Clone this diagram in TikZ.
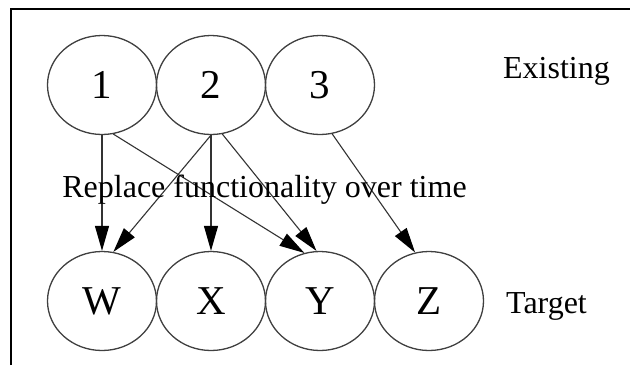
\documentclass[tikz,border=0pt]{standalone}
\usepackage{fontspec}
\setmainfont{Liberation Serif}
\usetikzlibrary{shapes.geometric,arrows.meta}

\begin{document}
\begin{tikzpicture}[x=1pt,y=-1pt,
  state/.style={ellipse,draw=black!75,line width=1.3pt,minimum width=109pt,
    minimum height=99pt,inner sep=0pt,font=\fontsize{41}{41}\selectfont},
  caption/.style={anchor=base,inner sep=0pt,font=\fontsize{32}{32}\selectfont},
  flow/.style={draw=black!80,line width=1.1pt,
    -{Triangle[length=25pt,width=14pt,color=black]}}]
  \useasboundingbox (0,0) rectangle (630,365);
  \fill[white] (0,0) rectangle (630,365);
  % outer frame (only top and left edges fall inside the page)
  \draw[line width=2pt] (11,365) -- (11,9) -- (630,9);

  % existing components
  \node[state] (n1) at (102,85) {1};
  \node[state] (n2) at (211,85) {2};
  \node[state] (n3) at (320,85) {3};

  % target components
  \node[state] (w) at (102,301) {W};
  \node[state] (x) at (211,301) {X};
  \node[state] (y) at (320,301) {Y};
  \node[state] (z) at (429,301) {Z};

  % row captions
  \node[caption] (lexist) at (556.5,78) {Existing};
  \node[caption] (ltarget) at (546.5,313) {Target};

  % migration arrows
  \draw[flow] (n1.south) -- (w.north);
  \draw[flow] (n1.-77) -- (y.108);
  \draw[flow] (n2.south) -- (w.77);
  \draw[flow] (n2.south) -- (x.north);
  \draw[flow] (n2.-77) -- (y.94);
  \draw[flow] (n3.-76) -- (z.106);

  \node[caption] (lreplace) at (264.5,197) {Replace functionality over time};
\end{tikzpicture}
\end{document}
